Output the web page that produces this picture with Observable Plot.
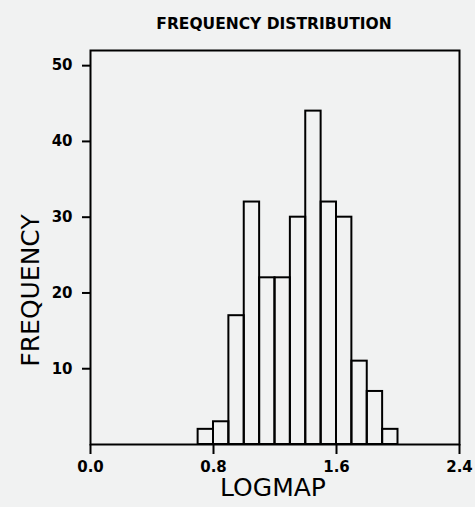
<!DOCTYPE html>
<html><head><meta charset="utf-8">
<script src="https://cdn.jsdelivr.net/npm/d3@7"></script>
<script src="https://cdn.jsdelivr.net/npm/@observablehq/plot@0.6"></script>
<style>html,body{margin:0;padding:0;background:#f1f2f2;}</style></head>
<body><div id="chart"></div>
<script>
const binEdges = [0.7, 0.8, 0.9, 1.0, 1.1, 1.2, 1.3, 1.4, 1.5, 1.6, 1.7, 1.8, 1.9, 2.0];
const counts = [2, 3, 17, 32, 22, 22, 30, 44, 32, 30, 11, 7, 2];
const xTicks = [0, 0.8, 1.6, 2.4];
const yTicks = [10, 20, 30, 40, 50];
const titleText = "FREQUENCY DISTRIBUTION";
const xLabel = "LOGMAP";
const yLabel = "FREQUENCY";

const bins = counts.map((c, i) => ({x1: binEdges[i], x2: binEdges[i + 1], count: c}));

const chart = Plot.plot({
  width: 475, height: 507,
  marginLeft: 90, marginRight: 16, marginTop: 50, marginBottom: 63,
  style: {background: "transparent", fontFamily: "DejaVu Sans", color: "black", overflow: "visible"},
  x: {domain: [0, 2.4], label: null},
  y: {domain: [0, 52], label: null},
  marks: [
    Plot.rectY(bins, {x1: "x1", x2: "x2", y: "count", fill: "none", stroke: "black", strokeWidth: 2}),
    Plot.frame({stroke: "black", strokeWidth: 2}),
    Plot.axisX({ticks: xTicks, tickFormat: d3.format(".1f"), tickSize: 10, tickPadding: 7, fontSize: 15, fontWeight: "bold", strokeWidth: 2, label: null}),
    Plot.axisY({ticks: yTicks, tickSize: 8, tickPadding: 10, fontSize: 15, fontWeight: "bold", strokeWidth: 2, label: null}),
    Plot.text([titleText], {text: d => d, frameAnchor: "top", dy: -22, lineAnchor: "bottom", textAnchor: "middle", fontSize: 15.5, fontWeight: "bold", dx: -1}),
    Plot.text([xLabel], {text: d => d, frameAnchor: "bottom", dy: 51, lineAnchor: "bottom", textAnchor: "middle", fontSize: 25, dx: -2}),
    Plot.text([yLabel], {text: d => d, frameAnchor: "left", rotate: -90, textAnchor: "middle", dx: -60, dy: 43, fontSize: 25})
  ]
});
document.getElementById("chart").appendChild(chart);
</script>
</body></html>
